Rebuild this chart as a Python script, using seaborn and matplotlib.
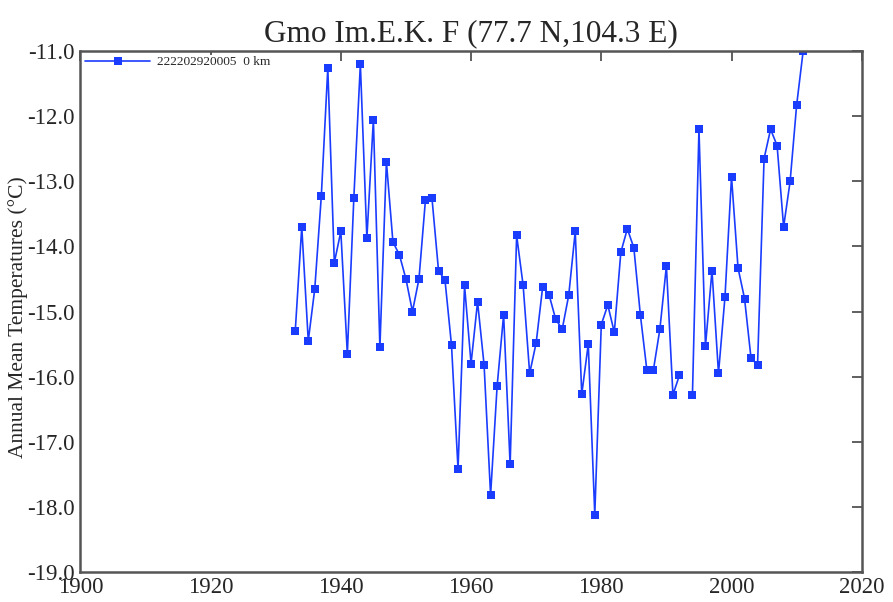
import numpy as np
import pandas as pd
import matplotlib
matplotlib.use("Agg")
import matplotlib.pyplot as plt
import seaborn as sns

# Annual mean temperatures (1993 missing)
years = list(range(1933, 2012))
temps = [-15.30, -13.70, -15.45, -14.65, -13.23, -11.26, -14.25, -13.77, -15.65, -13.25,
         -11.20, -13.87, -12.05, -15.55, -12.70, -13.93, -14.13, -14.50, -15.00, -14.50,
         -13.28, -13.26, -14.37, -14.52, -15.52, -17.42, -14.60, -15.80, -14.85, -15.82,
         -17.82, -16.15, -15.05, -17.35, -13.83, -14.60, -15.95, -15.48, -14.62, -14.75,
         -15.12, -15.27, -14.75, -13.77, -16.27, -15.50, -18.12, -15.20, -14.90, -15.32,
         -14.09, -13.73, -14.02, -15.05, -15.90, -15.90, -15.27, -14.30, -16.28, -15.98,
         np.nan, -16.28, -12.20, -15.53, -14.37, -15.95, -14.77, -12.93, -14.33, -14.80,
         -15.72, -15.82, -12.65, -12.20, -12.45, -13.70, -13.00, -11.83, -11.00]
station = "222202920005  0 km"
xticks = [1900, 1920, 1940, 1960, 1980, 2000, 2020]
yticks = [-19.0, -18.0, -17.0, -16.0, -15.0, -14.0, -13.0, -12.0, -11.0]

df = pd.DataFrame({"year": years, "temp": temps})
# split into runs so the line breaks at the missing year
df["seg"] = df["temp"].isna().cumsum()
df = df.dropna()

sns.set_style("white")
plt.rcParams['font.family'] = ['Liberation Serif', 'DejaVu Serif']

fig, ax = plt.subplots(figsize=(8.93, 6.02), dpi=100)
fig.subplots_adjust(left=0.09, right=0.965, top=0.915, bottom=0.05)

sns.lineplot(data=df, x="year", y="temp", units="seg", estimator=None,
             color="#1a3cff", marker="s", markersize=5.5, markeredgewidth=0,
             linewidth=1.2, label=station, ax=ax)

ax.set_xlim(1900, 2020)
ax.set_ylim(-19, -11)
ax.set_xticks(xticks)
ax.set_yticks(yticks)
ax.set_yticklabels([f"{v:.1f}" for v in yticks])
ax.tick_params(direction="in", length=7.5, width=1.2, color="#444444",
               top=True, right=True, labelsize=16.5, pad=4)
for s in ax.spines.values():
    s.set_color("#555555")
    s.set_linewidth(1.8)

ax.set_title("Gmo Im.E.K. F (77.7 N,104.3 E)", fontsize=22.5, pad=7)
ax.set_xlabel("")
ax.set_ylabel("Annual Mean Temperatures (°C)", fontsize=15.5)
ax.yaxis.set_label_coords(-0.067, 0.49)

handles, labels = ax.get_legend_handles_labels()
leg = ax.legend(handles[:1], labels[:1], loc="upper left", frameon=True,
                fontsize=9.6, handlelength=4.9, handletextpad=0.5,
                borderpad=0.1, borderaxespad=0.25, bbox_to_anchor=(0.0, 1.0),
                facecolor="white", edgecolor="none", framealpha=1.0,
                fancybox=False)
leg.set_zorder(5)

plt.savefig("out.png", dpi=100)
